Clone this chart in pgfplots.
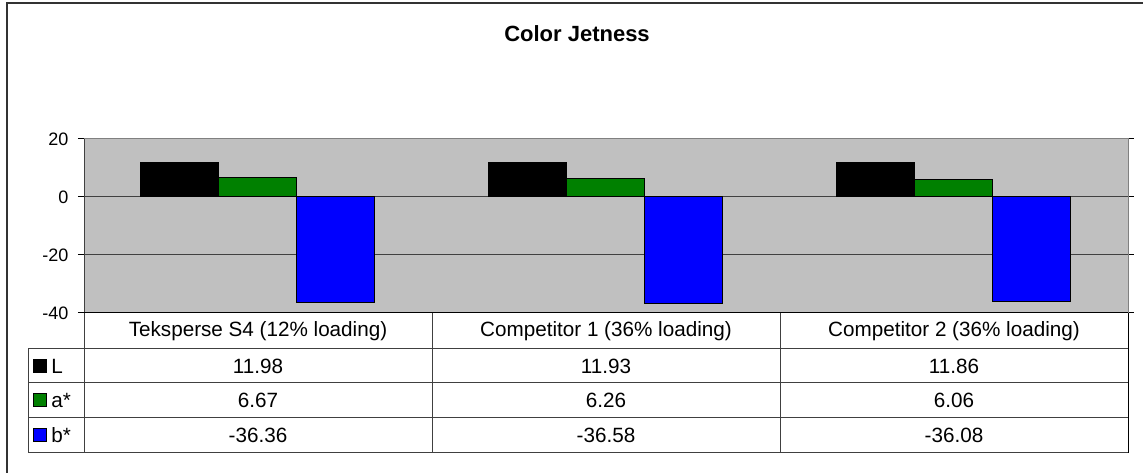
\documentclass[border=0pt]{standalone}
\usepackage{pgfplots}
\pgfplotsset{compat=1.18}
\usepackage{fontspec}
\setmainfont{Liberation Sans}
\definecolor{chartgray}{HTML}{C0C0C0}
\definecolor{barGreen}{HTML}{008000}
\definecolor{barBlue}{HTML}{0000FF}
\definecolor{lineDark}{HTML}{404040}
\definecolor{lineGray}{HTML}{808080}
\newcommand{\tabfont}{\fontsize{15.5}{17}\selectfont}
\begin{document}
\begin{tikzpicture}[x=0.75pt,y=-0.75pt]
\useasboundingbox (0,0) rectangle (1143,473);
% outer frame (only top and left edges visible)
\draw[line width=1.5pt, draw=black!80] (7,473) -- (7,3) -- (1143,3);
% title
\node[anchor=base, font=\fontsize{16.5}{18}\selectfont\bfseries, inner sep=0pt] at (577,42) {Color Jetness};
\coordinate (P) at (84,313);
\begin{axis}[
  at={(P)}, anchor=south west,
  width=782.8pt, height=130.5pt, scale only axis,
  xmin=-0.5, xmax=2.5, ymin=-40, ymax=20,
  xtick=\empty,
  ytick={-40,-20,0,20},
  yticklabels={-40,-20,0,20},
  yticklabel style={font=\fontsize{13.5}{15}\selectfont, xshift=-3.75pt},
  tick align=outside, major tick length=4.5pt,
  y tick style={draw=black, line width=0.75pt},
  axis background/.style={fill=chartgray},
  ymajorgrids, grid style={draw=lineDark, line width=0.75pt},
  axis line style={draw=none},
  ybar=0pt, bar width=58.5pt,
  clip=false,
]
\addplot[fill=black, draw=black, line width=0.75pt] coordinates {(0,11.98) (1,11.93) (2,11.86)};
\addplot[fill=barGreen, draw=black, line width=0.75pt] coordinates {(0,6.67) (1,6.26) (2,6.06)};
\addplot[fill=barBlue, draw=black, line width=0.75pt] coordinates {(0,-36.36) (1,-36.58) (2,-36.08)};
\end{axis}
% plot area border
\draw[draw=lineGray, line width=0.75pt] (84,139) -- (1128,139) -- (1128,313);
\draw[draw=lineDark, line width=0.75pt] (84,139) -- (84,313);
% y tick marks
\foreach \yy in {139,196.7,255,313} {\draw[draw=black, line width=0.75pt] (78,\yy) -- (84,\yy);}
% data table
\draw[draw=black, line width=0.75pt] (84,313) -- (1128,313);
\foreach \yy in {349,383,418,453} {\draw[draw=lineDark, line width=0.75pt] (28,\yy) -- (1128,\yy);}
\draw[draw=lineDark, line width=0.75pt] (28,349) -- (28,453);
\foreach \xx in {84,432,780} {\draw[draw=lineDark, line width=0.75pt] (\xx,313) -- (\xx,453);}
\draw[draw=black, line width=0.75pt] (1128,313) -- (1128,453);
% header
\node[font=\tabfont] at (258,331) {Teksperse S4 (12\% loading)};
\node[font=\tabfont] at (606,331) {Competitor 1 (36\% loading)};
\node[font=\tabfont] at (954,331) {Competitor 2 (36\% loading)};
% values
\node[font=\tabfont] at (258,366) {11.98};
\node[font=\tabfont] at (606,366) {11.93};
\node[font=\tabfont] at (954,366) {11.86};
\node[font=\tabfont] at (258,400.5) {6.67};
\node[font=\tabfont] at (606,400.5) {6.26};
\node[font=\tabfont] at (954,400.5) {6.06};
\node[font=\tabfont] at (258,435.5) {-36.36};
\node[font=\tabfont] at (606,435.5) {-36.58};
\node[font=\tabfont] at (954,435.5) {-36.08};
% legend keys
\draw[fill=black, draw=black, line width=0.75pt] (33,359.5) rectangle (46,372.5);
\draw[fill=barGreen, draw=black, line width=0.75pt] (33,394) rectangle (46,407);
\draw[fill=barBlue, draw=black, line width=0.75pt] (33,429) rectangle (46,442);
\node[font=\tabfont, anchor=west, inner sep=0pt] at (51,366) {L};
\node[font=\tabfont, anchor=west, inner sep=0pt] at (51,400.5) {a*};
\node[font=\tabfont, anchor=west, inner sep=0pt] at (51,435.5) {b*};
\end{tikzpicture}
\end{document}
